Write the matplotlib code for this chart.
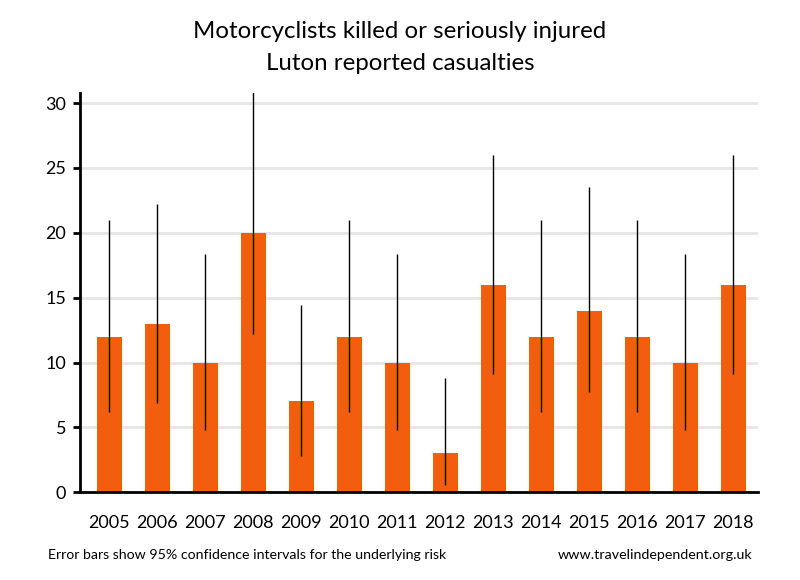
import matplotlib
matplotlib.use("Agg")
import matplotlib.pyplot as plt

plt.rcParams['font.family'] = ['Lato', 'DejaVu Sans']

years = ['2005', '2006', '2007', '2008', '2009', '2010', '2011', '2012', '2013',
         '2014', '2015', '2016', '2017', '2018']
casualties = [12, 13, 10, 20, 7, 12, 10, 3, 16, 12, 14, 12, 10, 16]
ci_low = [6.2, 6.9, 4.8, 12.2, 2.8, 6.2, 4.8, 0.6, 9.1, 6.2, 7.7, 6.2, 4.8, 9.1]
ci_high = [21.0, 22.2, 18.4, 30.9, 14.4, 21.0, 18.4, 8.8, 26.0, 21.0, 23.5, 21.0, 18.4, 26.0]

fig = plt.figure(figsize=(8, 5.8), dpi=100)
ax = fig.add_axes([0.1, 0.1512, 0.8475, 0.689])

x = list(range(len(years)))
ax.bar(x, casualties, width=0.52, color='#f25e0d', zorder=2)
yerr = [[c - lo for c, lo in zip(casualties, ci_low)],
        [hi - c for c, hi in zip(casualties, ci_high)]]
ax.errorbar(x, casualties, yerr=yerr, fmt='none', ecolor='black', elinewidth=1,
            capsize=0, zorder=3)

ax.set_xlim(-0.61, len(years) - 1 + 0.515)
ax.set_ylim(0, 30.8)
ax.set_yticks([0, 5, 10, 15, 20, 25, 30])
ax.set_xticks(x)
ax.set_xticklabels(years)
ax.yaxis.grid(True, color='#e6e6e6', linewidth=2, zorder=0)
ax.set_axisbelow(True)
for s in ['top', 'right']:
    ax.spines[s].set_visible(False)
for s in ['left', 'bottom']:
    ax.spines[s].set_linewidth(2)
ax.tick_params(axis='y', length=5, width=2, pad=5, labelsize=13)
ax.tick_params(axis='x', length=0, pad=16, labelsize=13)

fig.text(0.5, 0.946, 'Motorcyclists killed or seriously injured', ha='center', va='center', fontsize=17.3)
fig.text(0.5, 0.891, 'Luton reported casualties', ha='center', va='center', fontsize=17.3)
fig.text(0.06, 0.043, 'Error bars show 95% confidence intervals for the underlying risk', ha='left', va='center', fontsize=10.2)
fig.text(0.94, 0.043, 'www.travelindependent.org.uk', ha='right', va='center', fontsize=10.3)

fig.savefig('out.png', dpi=100)
